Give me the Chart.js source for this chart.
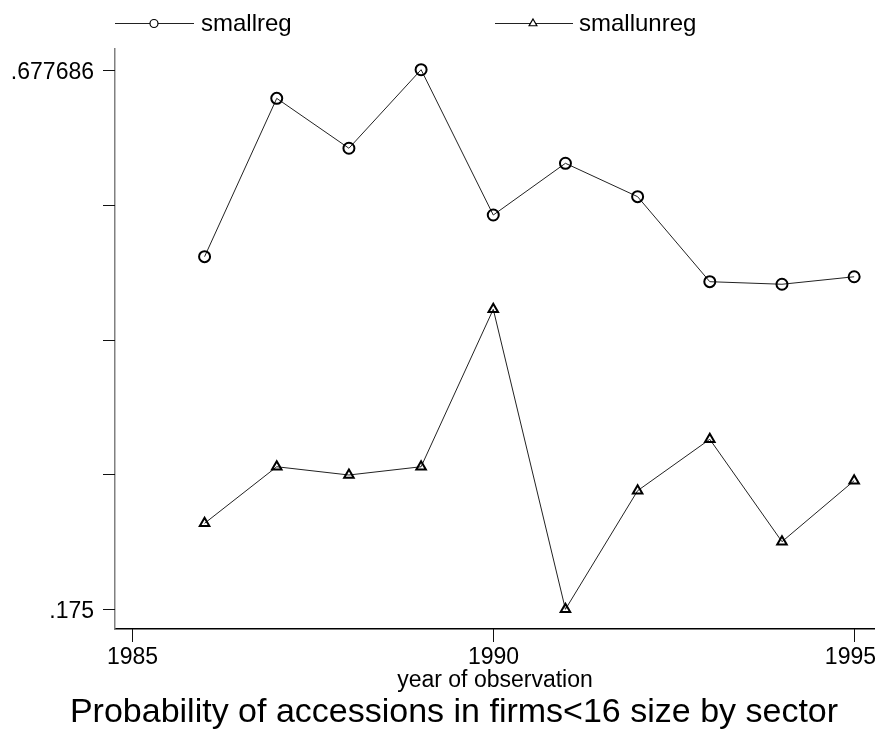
<!DOCTYPE html>
<html>
<head>
<meta charset="utf-8">
<script src="https://cdn.jsdelivr.net/npm/chart.js@4.4.1/dist/chart.umd.min.js"></script>
<style>
  html, body { margin: 0; padding: 0; background: #ffffff; }
  #wrap { width: 882px; height: 734px; }
</style>
</head>
<body>
<div id="wrap"><canvas id="c" width="882" height="734"></canvas></div>
<script>
// ---- data ----
const years = [1986, 1987, 1988, 1989, 1990, 1991, 1992, 1993, 1994, 1995];
const smallreg   = [0.5035, 0.6510, 0.6045, 0.677686, 0.5423, 0.5905, 0.5594, 0.4802, 0.4778, 0.4848];
const smallunreg = [0.2551, 0.3078, 0.3001, 0.3078, 0.4545, 0.175, 0.2855, 0.3334, 0.2380, 0.2948];
const xTicks = [1985, 1990, 1995];
const yTickValues = [0.175, 0.3006715, 0.426343, 0.5520145, 0.677686];
const yTickLabels = ['.175', '', '', '', '.677686'];
const seriesNames = ['smallreg', 'smallunreg'];
const xTitle = 'year of observation';
const chartTitle = 'Probability of accessions in firms<16 size by sector';

const FONT = '"Liberation Sans", Arial, Helvetica, sans-serif';

const toPts = (vals) => years.map((y, i) => ({ x: y, y: vals[i] }));

const overlay = {
  id: 'overlay',
  afterDraw(chart) {
    const ctx = chart.ctx;
    const xs = chart.scales.x, ys = chart.scales.y;
    const area = chart.chartArea;
    ctx.save();
    // y ticks
    ctx.strokeStyle = '#111';
    ctx.lineWidth = 1;
    ctx.fillStyle = '#000';
    ctx.font = '23px ' + FONT;
    ctx.textAlign = 'right';
    ctx.textBaseline = 'middle';
    yTickValues.forEach((v, i) => {
      const py = Math.round(ys.getPixelForValue(v)) + 0.5;
      ctx.beginPath();
      ctx.moveTo(area.left - 12, py);
      ctx.lineTo(area.left, py);
      ctx.stroke();
      if (yTickLabels[i]) ctx.fillText(yTickLabels[i], area.left - 21, py + 2);
    });
    // x ticks
    ctx.textAlign = 'center';
    ctx.textBaseline = 'alphabetic';
    xTicks.forEach((v, i) => {
      const px = Math.round(xs.getPixelForValue(v)) + 0.5;
      ctx.beginPath();
      ctx.moveTo(px, area.bottom);
      ctx.lineTo(px, area.bottom + 13);
      ctx.stroke();
      let lx = px;
      const w = ctx.measureText(String(v)).width;
      if (lx + w / 2 > chart.width - 6) lx = chart.width - 6 - w / 2;
      ctx.fillText(String(v), lx, 664);
    });
    // axis title
    ctx.font = '23px ' + FONT;
    ctx.fillText(xTitle, 495, 687);
    // chart title
    ctx.font = '34px ' + FONT;
    ctx.fillText(chartTitle, 454, 722);

    // legend
    const ds = chart.data.datasets;
    const entries = [
      { x0: 115, x1: 194, mx: 154, tx: 201 },
      { x0: 495, x1: 573, mx: 533, tx: 579 }
    ];
    const ly = 23.5;
    ctx.font = '24px ' + FONT;
    ctx.textAlign = 'left';
    ctx.textBaseline = 'middle';
    entries.forEach((e, i) => {
      ctx.strokeStyle = '#222';
      ctx.lineWidth = 1;
      ctx.beginPath();
      ctx.moveTo(e.x0, ly);
      ctx.lineTo(e.x1, ly);
      ctx.stroke();
      ctx.fillStyle = '#fff';
      ctx.strokeStyle = '#000';
      ctx.lineWidth = 1.2;
      Chart.helpers.drawPoint(ctx, {
        pointStyle: ds[i].pointStyle,
        radius: i === 0 ? 4 : 4.5,
        borderWidth: 1.2,
        rotation: 0
      }, e.mx, ly);
      ctx.fillStyle = '#000';
      ctx.fillText(seriesNames[i], e.tx, ly + 1);
    });
    ctx.restore();
  }
};

new Chart(document.getElementById('c'), {
  type: 'line',
  data: {
    datasets: [
      {
        label: seriesNames[0],
        data: toPts(smallreg),
        borderColor: '#222',
        borderWidth: 1,
        pointStyle: 'circle',
        pointRadius: 5.5,
        pointBorderWidth: 2,
        pointBorderColor: '#000',
        pointBackgroundColor: 'rgba(255,255,255,0)',
        tension: 0
      },
      {
        label: seriesNames[1],
        data: toPts(smallunreg),
        borderColor: '#222',
        borderWidth: 1,
        pointStyle: 'triangle',
        pointRadius: 5.5,
        pointBorderWidth: 2,
        pointBorderColor: '#000',
        pointBackgroundColor: 'rgba(255,255,255,0)',
        tension: 0
      }
    ]
  },
  options: {
    responsive: false,
    animation: false,
    devicePixelRatio: 1,
    layout: { padding: { left: 115, top: 49, right: 2, bottom: 105 } },
    plugins: { legend: { display: false }, tooltip: { enabled: false }, title: { display: false } },
    scales: {
      x: {
        type: 'linear',
        min: 1984.759,
        max: 1995.282,
        grid: { display: false, drawTicks: false, tickLength: 0 },
        ticks: { display: false },
        border: { display: true, color: '#000', width: 1.5 },
        afterFit(s) { s.height = 0; }
      },
      y: {
        type: 'linear',
        min: 0.15665,
        max: 0.69697,
        grid: { display: false, drawTicks: false, tickLength: 0 },
        ticks: { display: false },
        border: { display: true, color: '#808080', width: 1.5 },
        afterFit(s) { s.width = 0; }
      }
    }
  },
  plugins: [overlay]
});
</script>
</body>
</html>
